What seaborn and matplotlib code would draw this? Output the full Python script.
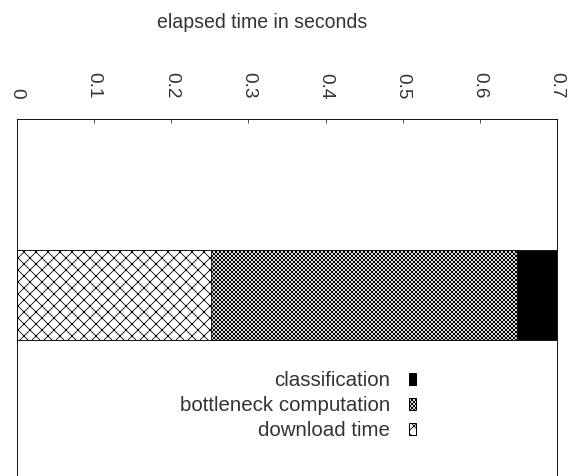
import matplotlib
matplotlib.use("Agg")
import matplotlib.pyplot as plt
import matplotlib.patches as mpatches
import seaborn as sns
import pandas as pd

# timing breakdown (seconds) for a single run
stage_names = ['download time', 'bottleneck computation', 'classification']
stage_times = [0.251, 0.397, 0.052]
stage_hatch = ['xx', 'xxxxxx', None]
stage_color = ['white', 'white', 'black']
run_label = ['run']
x_ticks = [0, 0.1, 0.2, 0.3, 0.4, 0.5, 0.6, 0.7]

sns.set_style('white')
plt.rcParams['font.family'] = ['Liberation Sans', 'DejaVu Sans']
plt.rcParams['hatch.linewidth'] = 0.8

fig = plt.figure(figsize=(571 / 72, 476 / 72), dpi=72)
ax = fig.add_axes([17 / 571, 0, 540 / 571, (476 - 119) / 476])

# stacked bar: draw cumulative totals, biggest first
cum = 0
cums = []
for t in stage_times:
    cum += t
    cums.append(cum)

for i in reversed(range(len(stage_names))):
    df = pd.DataFrame({'time': [cums[i]], 'run': run_label})
    sns.barplot(data=df, x='time', y='run', orient='h', ax=ax,
                color=stage_color[i], edgecolor='black', linewidth=0.8,
                width=0.8, hatch=stage_hatch[i])

ax.set_xlim(0, 0.7)
ax.set_ylim(1.609, -1.564)
ax.xaxis.tick_top()
ax.set_xticks(x_ticks)
ax.set_xticklabels([f'{v:g}' for v in x_ticks], rotation=-90, va='bottom', fontsize=19, color='#333333')
ax.tick_params(axis='x', direction='in', length=4, width=0.8, pad=20, top=True, bottom=False)
ax.set_yticks([])
ax.set_xlabel('')
ax.set_ylabel('')
for s in ['top', 'left', 'right']:
    ax.spines[s].set_color('black')
    ax.spines[s].set_linewidth(0.9)
ax.spines['bottom'].set_visible(False)

fig.text(262 / 571, 1 - 22 / 476, 'elapsed time in seconds', ha='center', va='center', fontsize=19.5, color='#333333')

handles = [mpatches.Patch(facecolor=stage_color[i], edgecolor='black', hatch=stage_hatch[i], label=stage_names[i])
           for i in reversed(range(len(stage_names)))]
leg = ax.legend(handles=handles, loc='upper right', bbox_to_anchor=(416 / 571, 1 - 371 / 476),
                bbox_transform=fig.transFigure, frameon=False, markerfirst=False,
                fontsize=20.5, handlelength=0.35, handleheight=0.5, handletextpad=0.9,
                labelspacing=0.3, borderaxespad=0, borderpad=0)
for txt in leg.get_texts():
    txt.set_color('#333333')

fig.savefig('out.png', dpi=72)
